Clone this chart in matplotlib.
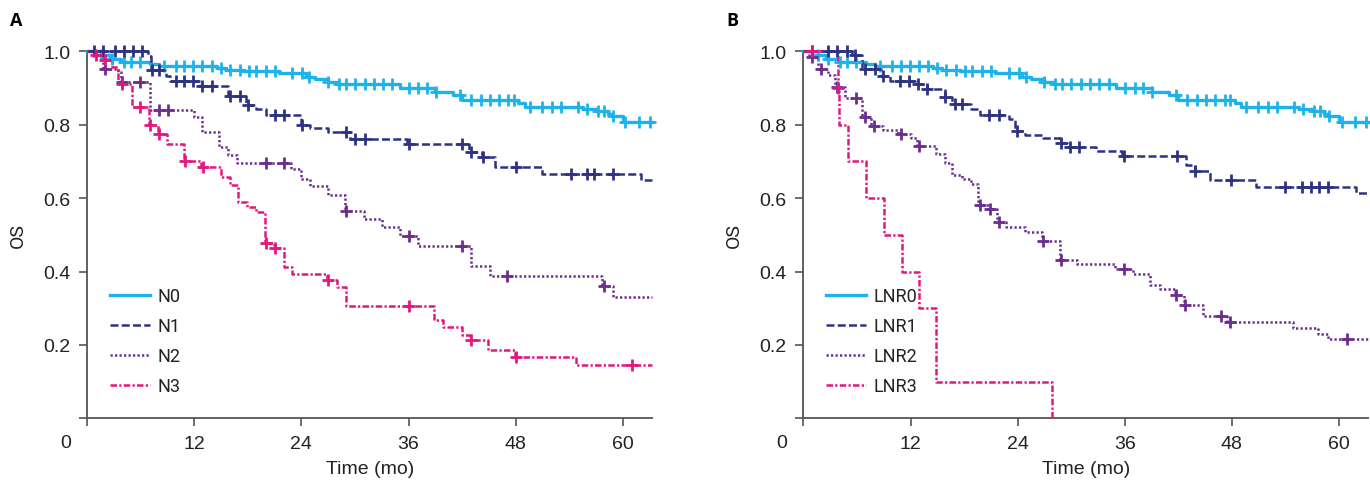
import numpy as np
import matplotlib
matplotlib.use("Agg")
import matplotlib.pyplot as plt
from matplotlib import font_manager

# ---- data (months, survival after each drop) ----
n0_t = [1.0, 2.5, 3.8, 7.0, 8.0, 14.5, 15.5, 17.5, 21.5, 24.5, 25.5, 27.0, 28.0,
        35.0, 39.0, 41.0, 42.0, 48.3, 49.0, 55.5, 57.0, 58.3, 58.8, 60.0]
n0_s = [0.99, 0.98, 0.97, 0.965, 0.96, 0.955, 0.95, 0.945, 0.94, 0.93, 0.925, 0.915, 0.91,
        0.90, 0.89, 0.88, 0.867, 0.858, 0.847, 0.842, 0.836, 0.83, 0.823, 0.807]
n0_c = [1.6, 2.8, 4.1, 4.9, 5.9, 8.6, 9.9, 10.9, 11.9, 12.9, 14.0, 15.0, 16.0, 17.1,
        18.1, 18.9, 20.0, 21.0, 23.0, 24.1, 24.9, 27.0, 28.2, 29.0, 30.0, 31.1, 32.1,
        33.1, 34.2, 36.0, 37.1, 38.1, 39.1, 41.8, 43.0, 44.1, 45.1, 46.1, 47.2, 47.8,
        49.6, 50.9, 52.1, 53.1, 55.0, 56.0, 57.2, 57.9, 58.9, 60.3, 61.8, 63.0]

n1_t = [6.8, 7.2, 8.8, 9.3, 12.6, 15.8, 17.8, 18.9, 20.0, 23.9, 25.0, 27.0, 29.4,
        35.8, 42.8, 44.2, 45.7, 50.9, 62.0]
n1_s = [0.988, 0.95, 0.934, 0.92, 0.906, 0.877, 0.855, 0.843, 0.826, 0.80, 0.79, 0.779,
        0.761, 0.747, 0.725, 0.711, 0.684, 0.667, 0.648]
n1_c = [0.8, 1.8, 3.1, 4.1, 5.1, 6.1, 7.3, 8.0, 9.9, 10.9, 11.9, 12.9, 14.0, 16.0,
        17.1, 18.0, 21.0, 22.0, 24.1, 29.0, 30.0, 31.1, 36.0, 42.0, 43.0, 44.3, 48.0,
        54.2, 56.0, 56.8, 58.9]

n2_t = [1.5, 1.8, 3.5, 3.8, 7.0, 12.0, 12.9, 14.8, 15.8, 16.8, 22.8, 23.9, 25.0, 27.0,
        28.9, 31.0, 33.0, 35.0, 37.1, 43.0, 45.1, 57.7, 58.9]
n2_s = [0.985, 0.952, 0.943, 0.916, 0.84, 0.82, 0.78, 0.74, 0.717, 0.697, 0.68, 0.652,
        0.634, 0.609, 0.566, 0.543, 0.52, 0.498, 0.47, 0.416, 0.389, 0.361, 0.33]
n2_c = [2.0, 3.9, 5.9, 8.0, 9.0, 20.0, 22.0, 29.0, 36.0, 42.0, 47.0, 57.9]

n3_t = [0.8, 1.8, 2.8, 3.5, 5.0, 6.9, 7.9, 8.9, 10.9, 12.8, 15.0, 16.0, 16.9, 17.9,
        18.9, 19.9, 20.9, 22.0, 23.0, 26.9, 28.0, 29.0, 38.9, 39.9, 42.0, 42.9, 44.9,
        47.9, 54.8]
n3_s = [0.99, 0.975, 0.958, 0.911, 0.848, 0.80, 0.775, 0.747, 0.70, 0.684, 0.657, 0.637,
        0.589, 0.575, 0.561, 0.478, 0.463, 0.411, 0.393, 0.378, 0.357, 0.307, 0.269,
        0.248, 0.227, 0.212, 0.187, 0.166, 0.145]
n3_c = [1.0, 2.0, 3.9, 5.9, 7.0, 8.0, 11.0, 13.0, 20.0, 21.0, 27.0, 36.0, 43.0, 48.0, 61.0]

# LNR0 is the same node-negative group as N0
lnr0_t, lnr0_s, lnr0_c = n0_t, n0_s, n0_c

lnr1_t = [5.5, 6.6, 8.7, 9.7, 12.5, 13.8, 15.9, 16.7, 18.8, 19.8, 23.0, 23.7, 24.8,
          26.8, 28.8, 29.5, 32.8, 35.7, 42.9, 43.9, 45.6, 50.7, 61.9]
lnr1_s = [0.99, 0.952, 0.934, 0.92, 0.91, 0.897, 0.875, 0.857, 0.843, 0.826, 0.816,
          0.784, 0.772, 0.763, 0.75, 0.74, 0.729, 0.716, 0.69, 0.673, 0.648, 0.631, 0.614]
lnr1_c = [1.0, 2.8, 3.8, 4.9, 5.8, 6.9, 8.0, 8.9, 10.8, 11.8, 12.8, 13.9, 15.9, 17.0,
          17.8, 20.8, 21.9, 23.9, 28.9, 29.9, 30.9, 35.9, 41.9, 43.9, 47.9, 54.0, 55.9,
          56.9, 57.8, 58.8]

lnr2_t = [0.6, 1.6, 2.8, 3.5, 4.7, 6.6, 7.6, 8.9, 10.6, 12.0, 12.7, 14.9, 15.9, 16.7,
          17.8, 18.8, 19.6, 20.7, 21.7, 22.7, 24.8, 26.7, 28.7, 30.7, 34.9, 36.9, 38.8,
          40.0, 41.6, 42.6, 44.8, 47.5, 54.9, 57.7, 58.8]
lnr2_s = [0.984, 0.952, 0.935, 0.902, 0.872, 0.82, 0.796, 0.786, 0.775, 0.764, 0.741,
          0.72, 0.696, 0.663, 0.652, 0.639, 0.581, 0.569, 0.534, 0.52, 0.507, 0.484,
          0.432, 0.42, 0.407, 0.393, 0.363, 0.352, 0.336, 0.309, 0.28, 0.263, 0.245,
          0.23, 0.216]
lnr2_c = [1.0, 2.0, 3.8, 5.9, 6.9, 7.9, 10.9, 12.9, 19.8, 20.9, 21.9, 26.8, 28.9,
          35.9, 41.8, 42.8, 46.8, 47.8, 60.9]

lnr3_t = [3.85, 3.95, 5.0, 7.0, 9.0, 11.0, 12.9, 14.9, 27.9]
lnr3_s = [0.90, 0.80, 0.70, 0.60, 0.50, 0.40, 0.30, 0.10, 0.0]
lnr3_c = [1.0, 3.9]

x_ticks = [0, 12, 24, 36, 48, 60]
y_ticks = [0, 0.2, 0.4, 0.6, 0.8, 1.0]
t_end = 63.3

# ---- styles ----
cyan, navy, purple, magenta = "#1DB3EA", "#2E3283", "#6B2D8F", "#E2187F"
styles = [
    dict(color=cyan, lw=2.4, ls="-"),
    dict(color=navy, lw=1.8, ls=(0, (3.2, 1.3))),
    dict(color=purple, lw=1.8, ls=(0, (0.9, 0.9))),
    dict(color=magenta, lw=1.8, ls=(0, (2.6, 0.9, 0.9, 0.9))),
]

fams = {f.name for f in font_manager.fontManager.ttflist}
narrow = "Liberation Sans Narrow" if "Liberation Sans Narrow" in fams else "Liberation Sans"
plt.rcParams["font.family"] = [narrow, "DejaVu Sans"]


def km_line(ax, t, s, c, style, label, end):
    x = np.r_[0.0, t]
    y = np.r_[1.0, s]
    if y[-1] > 0:
        x = np.r_[x, end]
        y = np.r_[y, y[-1]]
    ax.step(x, y, where="post", label=label, clip_on=False, zorder=3, **style)
    # censor marks sit on the curve
    idx = np.searchsorted(np.r_[0.0, t], c, side="right") - 1
    cy = np.r_[1.0, s][idx]
    ax.plot(c, cy, ls="none", marker="+", ms=9, mew=2.0, color=style["color"],
            clip_on=False, zorder=4)


def setup(ax, curves, labels, letter, fig, zero_x):
    for (t, s, c), st, lab in zip(curves, styles, labels):
        km_line(ax, t, s, c, st, lab, t_end)
    ax.set_xlim(0, t_end)
    ax.set_ylim(0, 1.0)
    for sp in ["top", "right"]:
        ax.spines[sp].set_visible(False)
    for sp in ["left", "bottom"]:
        ax.spines[sp].set_color("#555555")
        ax.spines[sp].set_linewidth(1.3)
    ax.set_xticks(x_ticks)
    ax.set_xticklabels([""] + [str(v) for v in x_ticks[1:]])
    ax.set_yticks(y_ticks)
    ax.set_yticklabels([""] + ["%.1f" % v for v in y_ticks[1:]])
    ax.tick_params(direction="out", length=6, width=1.2, color="#555555",
                   labelsize=14, labelcolor="#222222", pad=6)
    ax.set_xlabel("Time (mo)", fontsize=14, color="#222222", labelpad=6)
    ax.set_ylabel("OS", fontsize=14, color="#222222", labelpad=12,
                  family=["Roboto", "DejaVu Sans"])
    leg = ax.legend(loc="upper left", bbox_to_anchor=(0.04, 0.357), frameon=False,
                    handlelength=2.2, handletextpad=0.45, labelspacing=0.66,
                    borderaxespad=0, borderpad=0,
                    prop=dict(family=["Roboto", "DejaVu Sans"], size=13))
    for txt in leg.get_texts():
        txt.set_color("#222222")
    bb = ax.get_position()
    fig.text(zero_x / 1370, 1 - 444 / 489, "0", fontsize=14, color="#222222",
             ha="center", va="center")
    fig.text(bb.x0 - 77 / 1370, 0.958, letter, fontsize=13, fontweight="bold",
             family=["Open Sans", "DejaVu Sans"], va="center")


fig = plt.figure(figsize=(13.7, 4.89), dpi=100)
ax_a = fig.add_axes([87.2 / 1370, 1 - 419.3 / 489, 565 / 1370, 367 / 489])
ax_b = fig.add_axes([803.4 / 1370, 1 - 419.3 / 489, 565 / 1370, 367 / 489])

setup(ax_a, [(n0_t, n0_s, n0_c), (n1_t, n1_s, n1_c), (n2_t, n2_s, n2_c), (n3_t, n3_s, n3_c)],
      ["N0", "N1", "N2", "N3"], "A", fig, 66)
setup(ax_b, [(lnr0_t, lnr0_s, lnr0_c), (lnr1_t, lnr1_s, lnr1_c), (lnr2_t, lnr2_s, lnr2_c),
             (lnr3_t, lnr3_s, lnr3_c)],
      ["LNR0", "LNR1", "LNR2", "LNR3"], "B", fig, 781.7)

fig.savefig("out.png", dpi=100)
